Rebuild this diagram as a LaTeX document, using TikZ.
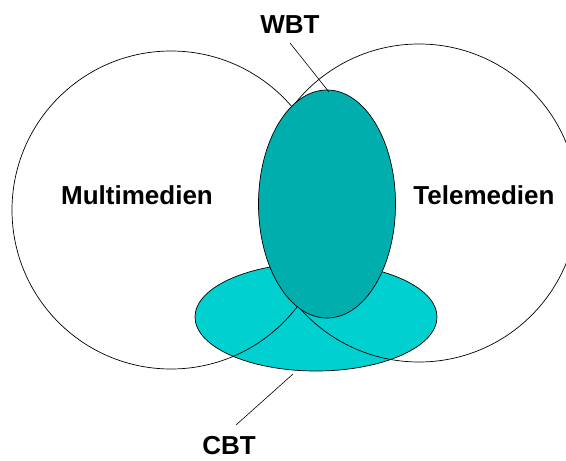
\documentclass[tikz,border=0pt]{standalone}
\usepackage{fontspec}
\setmainfont{Liberation Sans}
\usetikzlibrary{shapes.geometric}
\definecolor{wbtcol}{RGB}{0,174,174}
\definecolor{cbtcol}{RGB}{0,208,208}
\begin{document}
\begin{tikzpicture}[x=1pt,y=-1pt,
  lbl/.style={font=\fontsize{26}{29}\selectfont\bfseries, inner sep=0pt},
  outl/.style={draw=black, line width=0.7pt}]
\useasboundingbox (0,0) rectangle (566,461);
\begin{scope}
\clip (0,0) rectangle (566,461);
% CBT ellipse fill
\fill[cbtcol] (316,317) ellipse [x radius=121, y radius=54];
% circles
\node[outl, circle, minimum size=318pt, inner sep=0pt] (multi) at (171,210) {};
\node[outl, circle, minimum size=318pt, inner sep=0pt] (tele) at (419,203) {};
% CBT outline
\node[outl, ellipse, minimum width=242pt, minimum height=108pt, inner sep=0pt] (cbt) at (316,317) {};
% WBT ellipse
\node[outl, fill=wbtcol, ellipse, minimum width=137pt, minimum height=228pt, inner sep=0pt] (wbt) at (327,204) {};
\end{scope}
\node[lbl] (lmulti) at (137,195) {Multimedien};
\node[lbl] (ltele) at (484,195) {Telemedien};
\node[lbl] (lwbt) at (290,25) {WBT};
\node[lbl] (lcbt) at (229,446) {CBT};
\coordinate (wbtend) at (329,92);
\coordinate (wbtstart) at (290,43);
\coordinate (cbtend) at (293,374);
\coordinate (cbtstart) at (236,425);
\draw[line width=0.6pt] (wbtstart) -- (wbtend);
\draw[line width=0.6pt] (cbtstart) -- (cbtend);
\end{tikzpicture}
\end{document}
